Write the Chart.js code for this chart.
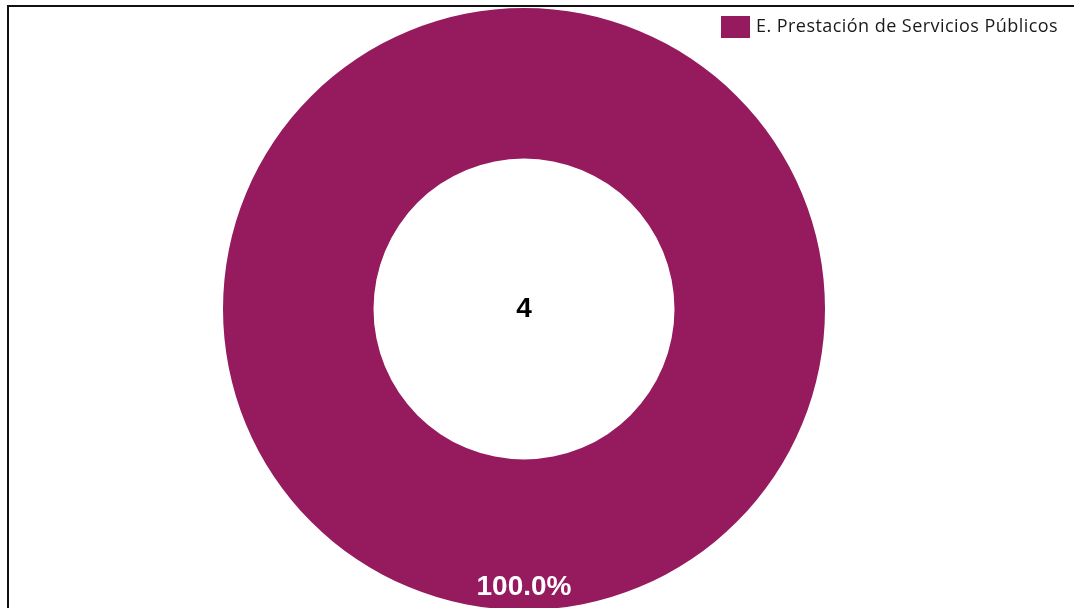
<!DOCTYPE html>
<html>
<head>
<meta charset="utf-8">
<script src="https://cdn.jsdelivr.net/npm/chart.js@4"></script>
<style>
html,body{margin:0;padding:0;background:#fff;overflow:hidden;width:1074px;height:608px;}
#wrap{position:absolute;left:0;top:0;width:1074px;height:620px;}
</style>
</head>
<body>
<div id="wrap"><canvas id="c" width="1074" height="620"></canvas></div>
<script>
const categories = ['E. Prestación de Servicios Públicos'];
const values = [4];
const colors = ['#951A5E'];

const framePlugin = {
  id: 'frame',
  beforeDraw(chart) {
    const ctx = chart.ctx;
    ctx.save();
    ctx.strokeStyle = '#111';
    ctx.lineWidth = 2;
    ctx.beginPath();
    ctx.moveTo(8, 640);
    ctx.lineTo(8, 6);
    ctx.lineTo(1080, 6);
    ctx.stroke();
    ctx.restore();
  }
};

const legendPlugin = {
  id: 'customLegend',
  afterDraw(chart) {
    const ctx = chart.ctx;
    ctx.save();
    const labels = chart.data.labels;
    const ds = chart.data.datasets[0];
    labels.forEach((lab, i) => {
      const y = 16 + i * 26;
      ctx.fillStyle = ds.backgroundColor[i];
      ctx.fillRect(721, y, 29, 22);
      ctx.fillStyle = '#1a1a1a';
      ctx.font = '18px "Open Sans", sans-serif';
      ctx.letterSpacing = '0.45px';
      ctx.textBaseline = 'middle';
      ctx.textAlign = 'left';
      ctx.fillText(lab, 756, y + 11);
    });
    ctx.restore();
  }
};

const labelPlugin = {
  id: 'arcLabels',
  afterDatasetsDraw(chart) {
    const ctx = chart.ctx;
    const meta = chart.getDatasetMeta(0);
    const data = chart.data.datasets[0].data;
    const total = data.reduce((a, b) => a + b, 0);
    ctx.save();
    meta.data.forEach((arc, i) => {
      const p = arc.getProps(['x', 'y', 'startAngle', 'endAngle', 'innerRadius', 'outerRadius'], true);
      const mid = (p.startAngle + p.endAngle) / 2;
      const r = p.innerRadius + (p.outerRadius - p.innerRadius) * 0.85;
      const x = p.x + Math.cos(mid) * r;
      const y = p.y + Math.sin(mid) * r;
      ctx.fillStyle = '#ffffff';
      ctx.font = 'bold 28px "Liberation Sans", Arial, sans-serif';
      ctx.textAlign = 'center';
      ctx.textBaseline = 'middle';
      ctx.fillText((data[i] / total * 100).toFixed(1) + '%', x, y);
    });
    const a0 = meta.data[0];
    ctx.fillStyle = '#000';
    ctx.font = 'bold 28px "Liberation Sans", Arial, sans-serif';
    ctx.textAlign = 'center';
    ctx.textBaseline = 'middle';
    ctx.fillText(String(total), a0.x, a0.y);
    ctx.restore();
  }
};

new Chart(document.getElementById('c'), {
  type: 'doughnut',
  data: {
    labels: categories,
    datasets: [{
      data: values,
      backgroundColor: colors,
      borderWidth: 0
    }]
  },
  options: {
    responsive: false,
    animation: false,
    cutout: '50%',
    layout: { padding: { left: 223, right: 249, top: 8, bottom: 10 } },
    plugins: {
      legend: { display: false },
      tooltip: { enabled: false },
      title: { display: false }
    }
  },
  plugins: [framePlugin, legendPlugin, labelPlugin]
});
</script>
</body>
</html>
